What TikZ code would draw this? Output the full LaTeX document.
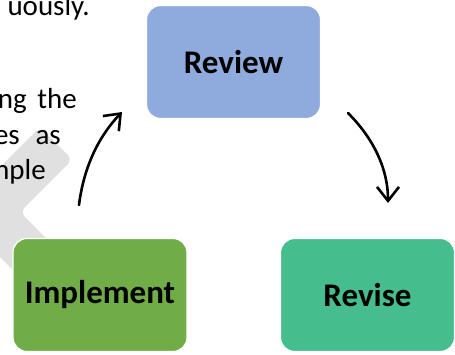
\documentclass[tikz,border=0pt]{standalone}
\usepackage{fontspec}
\setmainfont{Carlito}
\usetikzlibrary{arrows.meta}
\definecolor{reviewblue}{RGB}{143,170,220}
\definecolor{implgreen}{RGB}{112,173,71}
\definecolor{revisegreen}{RGB}{69,189,141}
\definecolor{chevgray}{RGB}{224,224,224}
\begin{document}
\begin{tikzpicture}[x=1pt,y=-1pt,
  stage/.style={rectangle, rounded corners=14pt, minimum width=174pt,
    minimum height=113pt, draw=white, line width=1.2pt, text=black,
    font=\fontsize{33}{40}\selectfont\bfseries},
  body/.style={anchor=base east, inner sep=0pt, text=black,
    font=\fontsize{29}{35}\selectfont},
  loopArrow/.style={line width=2.6pt, line cap=round,
    -{Straight Barb[length=14pt,width=22pt]}}]
\useasboundingbox (0,0) rectangle (455,354);
\clip (0,0) rectangle (455,354);

% light grey chevron behind the text
\fill[chevgray, rounded corners=7pt]
  (40,127) -- (72.5,159.5) -- (20,212) -- (80,272) -- (47.5,304.5)
  -- (-45,212) -- cycle;

% fragments of the running text
\node[body] (t1) at (90,15) {uously.};
\node[body] (t2a) at (27,108) {ng};
\node[body] (t2b) at (77,108) {the};
\node[body] (t3a) at (20,144) {es};
\node[body] (t3b) at (61,144) {as};
\node[body] (t4) at (46,179) {mple};

% the three stages
\node[stage, fill=reviewblue] (review) at (233.5,62) {Review};
\node[stage, fill=implgreen] (implement) at (100,295) {Implement};
\node[stage, fill=revisegreen] (revise) at (367.5,295) {Revise};

% curved arrows between the stages
\coordinate (upStart) at (79,205);
\coordinate (upEnd) at (122,112);
\coordinate (downStart) at (348,113);
\coordinate (downEnd) at (388,203);
\draw[loopArrow] (upStart) .. controls (84,165) and (100,135) .. (upEnd);
\draw[loopArrow] (downStart) .. controls (370,135) and (388,165) .. (downEnd);
\end{tikzpicture}
\end{document}
